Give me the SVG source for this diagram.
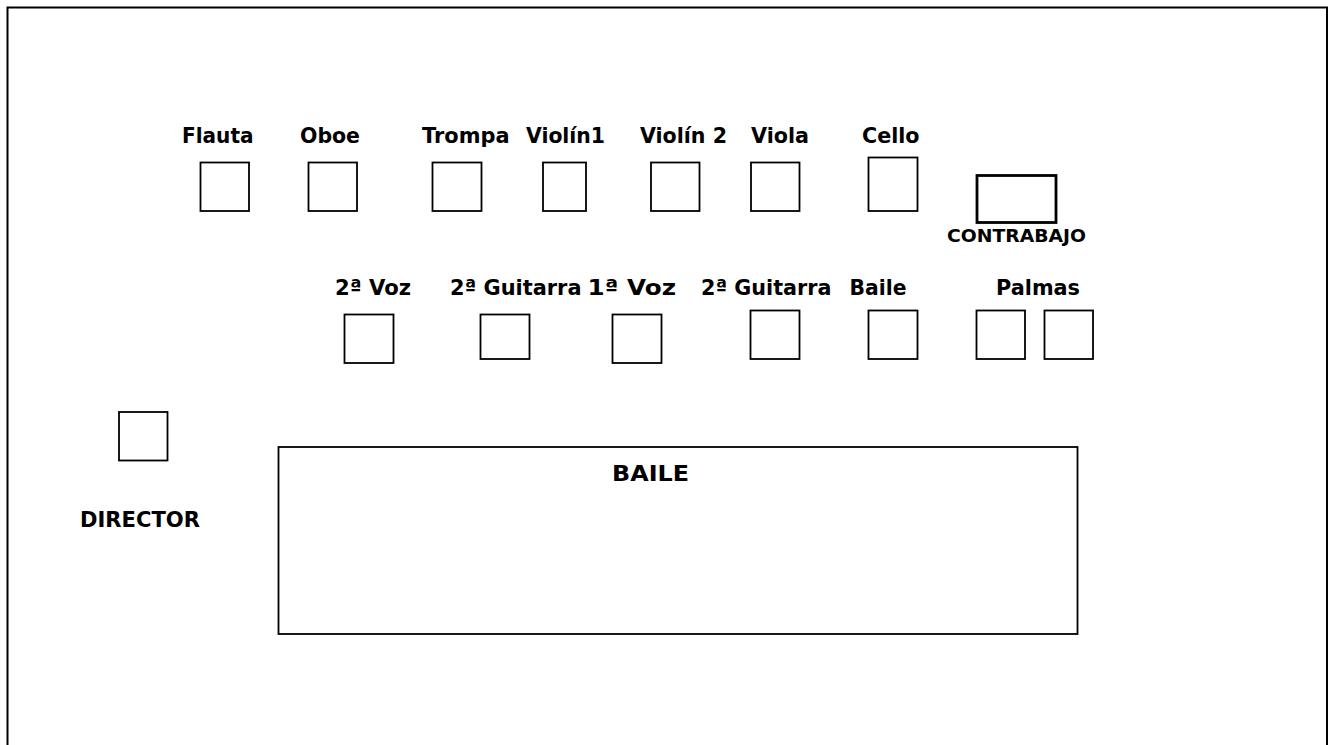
<svg xmlns="http://www.w3.org/2000/svg" width="1334" height="745" viewBox="0 0 1334 745">
<style>
.b{fill:none;stroke:#000;stroke-width:1.8}
.t{font-family:"DejaVu Sans",Verdana,sans-serif;font-weight:bold;font-size:21px;fill:#000}
.s{font-size:17.5px}
</style>
<rect width="1334" height="745" fill="#fff"/>
<g id="frame"><rect x="7.5" y="7.5" width="1319.5" height="760" fill="none" stroke="#000" stroke-width="2"/></g>
<g id="connectors"></g>
<g id="flauta"><text class="t" x="182" y="143" textLength="71.5" lengthAdjust="spacingAndGlyphs">Flauta</text><rect class="b" x="200.5" y="162.5" width="48.5" height="48.5"/></g>
<g id="oboe"><text class="t" x="300" y="143" textLength="60" lengthAdjust="spacingAndGlyphs">Oboe</text><rect class="b" x="308.5" y="162.5" width="48.5" height="48.5"/></g>
<g id="trompa"><text class="t" x="422" y="143" textLength="87.5" lengthAdjust="spacingAndGlyphs">Trompa</text><rect class="b" x="432.5" y="162.5" width="49" height="48.5"/></g>
<g id="violin1"><text class="t" x="526" y="143" textLength="79" lengthAdjust="spacingAndGlyphs">Violín1</text><rect class="b" x="543" y="162.5" width="43" height="48.5"/></g>
<g id="violin2"><text class="t" x="640" y="143" textLength="87" lengthAdjust="spacingAndGlyphs">Violín 2</text><rect class="b" x="651" y="162.5" width="48.5" height="48.5"/></g>
<g id="viola"><text class="t" x="751" y="143" textLength="58" lengthAdjust="spacingAndGlyphs">Viola</text><rect class="b" x="751" y="162.5" width="48.5" height="48.5"/></g>
<g id="cello"><text class="t" x="862" y="143" textLength="57.5" lengthAdjust="spacingAndGlyphs">Cello</text><rect class="b" x="868.5" y="157.5" width="49" height="53.5"/></g>
<g id="contrabajo"><rect x="977" y="175.5" width="79" height="47" fill="none" stroke="#000" stroke-width="2.8"/><text class="t s" x="947" y="242" textLength="139" lengthAdjust="spacingAndGlyphs">CONTRABAJO</text></g>
<g id="voz2"><text class="t" x="335" y="295" textLength="76" lengthAdjust="spacingAndGlyphs">2ª Voz</text><rect class="b" x="344.5" y="314.5" width="49" height="48.5"/></g>
<g id="guitarra2a"><text class="t" x="450" y="295" textLength="131.5" lengthAdjust="spacingAndGlyphs">2ª Guitarra</text><rect class="b" x="480.5" y="314.5" width="49" height="44.5"/></g>
<g id="voz1"><text class="t" x="587.5" y="295" textLength="88.5" lengthAdjust="spacingAndGlyphs">1ª Voz</text><rect class="b" x="612.5" y="314.5" width="49" height="48.5"/></g>
<g id="guitarra2b"><text class="t" x="701" y="295" textLength="130.5" lengthAdjust="spacingAndGlyphs">2ª Guitarra</text><rect class="b" x="750.5" y="310.5" width="49" height="48.5"/></g>
<g id="baile-musico"><text class="t" x="849.5" y="295" textLength="57" lengthAdjust="spacingAndGlyphs">Baile</text><rect class="b" x="868.5" y="310.5" width="49" height="48.5"/></g>
<g id="palmas"><text class="t" x="996" y="295" textLength="84" lengthAdjust="spacingAndGlyphs">Palmas</text><rect class="b" x="976.5" y="310.5" width="48.5" height="48.5"/><rect class="b" x="1044.5" y="310.5" width="48.5" height="48.5"/></g>
<g id="director"><rect class="b" x="119" y="412" width="48.5" height="48.5"/><text class="t" x="80" y="527" textLength="120" lengthAdjust="spacingAndGlyphs">DIRECTOR</text></g>
<g id="baile"><rect x="278.5" y="447" width="799" height="187" fill="none" stroke="#000" stroke-width="1.8"/><text class="t" x="612" y="481" textLength="77" lengthAdjust="spacingAndGlyphs">BAILE</text></g>
</svg>
